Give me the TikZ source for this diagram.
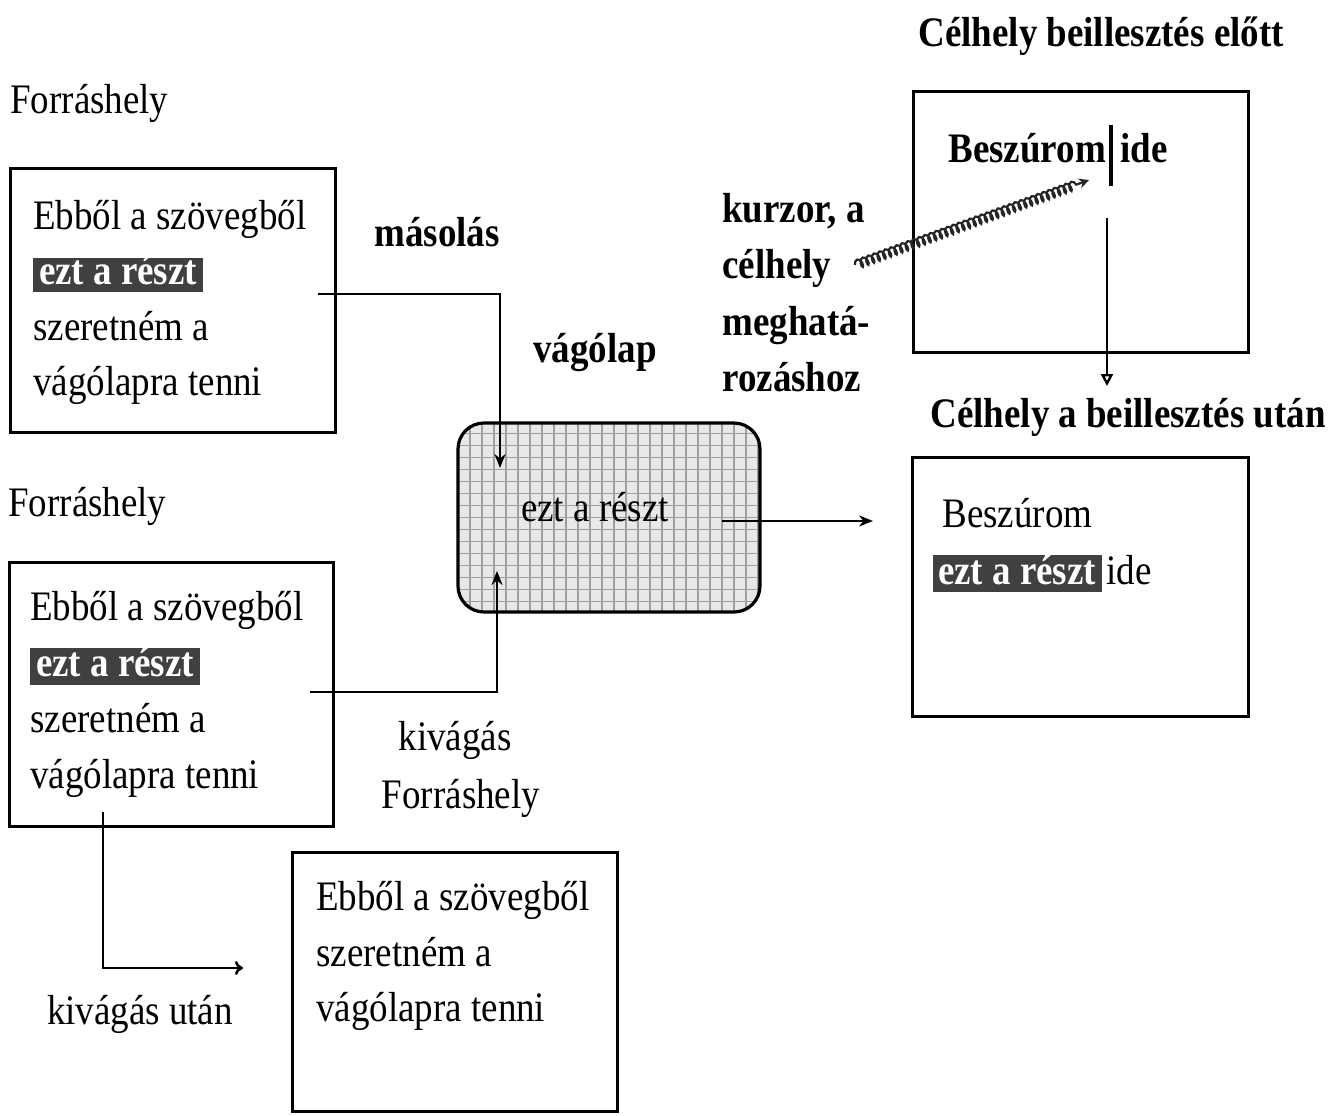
\documentclass[tikz,border=0pt]{standalone}
\usepackage{fontspec}
\setmainfont{Liberation Serif}[FakeStretch=0.88]
\usetikzlibrary{fit,arrows.meta,decorations.pathmorphing}
\begin{document}
\begin{tikzpicture}[x=0.5pt,y=-0.5pt,
  box/.style={draw, line width=1.5pt, inner sep=0pt},
  txt/.style={anchor=base west, inner sep=0pt, font=\fontsize{21}{24}\selectfont},
  btxt/.style={txt, font=\fontsize{21}{24}\selectfont\bfseries},
  lbl/.style={anchor=base, inner sep=0pt, font=\fontsize{21}{24}\selectfont},
  blbl/.style={lbl, font=\fontsize{21}{24}\selectfont\bfseries},
  hlfill/.style={fill=black!75, draw=none, inner sep=0pt},
  hltext/.style={anchor=base, inner sep=0pt, text=white, font=\fontsize{21}{24}\selectfont\bfseries},
  conn/.style={line width=1.3pt},
  tipS/.style={-{Stealth[length=7pt,width=5.5pt]}},
  clipb/.style={draw, line width=1.6pt, fill=gray!18, rounded corners=13pt, inner sep=0pt,
    path picture={\draw[gray!75, line width=0.55pt, step=6pt]
      (path picture bounding box.south west) grid (path picture bounding box.north east);}}]
\useasboundingbox (0,0) rectangle (1329,1115);
\fill[white] (0,0) rectangle (1329,1115);

% ---------- top source box ----------
\node[txt] (t1) at (10,113) {Forráshely};
\node[box, fit={(10,168)(335,432)}] (b1) {};
\node[txt] (b1l1) at (33,229) {Ebből a szövegből};
\node[hlfill, fit={(33,258)(203,292)}] (h1) {};
\node[hltext] (h1t) at (118,284) {ezt a részt};
\node[txt] (b1l3) at (33,340) {szeretném a};
\node[txt] (b1l4) at (33,395) {vágólapra tenni};
\node[blbl] (masolas) at (437,246) {másolás};

% ---------- second source box ----------
\node[txt] (t2) at (8,516) {Forráshely};
\node[box, fit={(9,562)(333,826)}] (b2) {};
\node[txt] (b2l1) at (30,620) {Ebből a szövegből};
\node[hlfill, fit={(30,648)(200,685)}] (h2) {};
\node[hltext] (h2t) at (115,676) {ezt a részt};
\node[txt] (b2l3) at (30,732) {szeretném a};
\node[txt] (b2l4) at (30,788) {vágólapra tenni};
\node[lbl] (kivagas) at (455,750) {kivágás};
\node[lbl] (forr3) at (461,808) {Forráshely};
\node[lbl] (utan) at (140,1024) {kivágás után};

% ---------- result box after cut ----------
\node[box, fit={(292,852)(617,1111)}] (b3) {};
\node[txt] (b3l1) at (316,910) {Ebből a szövegből};
\node[txt] (b3l2) at (316,966) {szeretném a};
\node[txt] (b3l3) at (316,1021) {vágólapra tenni};

% ---------- clipboard ----------
\node[clipb, fit={(458,423)(760,612)}] (clip) {};
\node[lbl] (cliptext) at (595,521) {ezt a részt};
\node[blbl] (vagolap) at (595,362) {vágólap};

% ---------- target before ----------
\node[btxt] (t4) at (918,46) {Célhely beillesztés előtt};
\node[box, fit={(913,91)(1248,352)}] (b4) {};
\node[btxt] (b4l1) at (948,162) {Beszúrom};
\node[btxt] (b4ide) at (1120,162) {ide};
\coordinate (cur1) at (1111,125);
\coordinate (cur2) at (1111,186);
\draw[line width=1.6pt] (cur1) -- (cur2);

\node[btxt] (k1) at (722,222) {kurzor, a};
\node[btxt] (k2) at (722,278) {célhely};
\node[btxt] (k3) at (722,335) {meghatá-};
\node[btxt] (k4) at (722,391) {rozáshoz};

% ---------- target after ----------
\node[btxt] (t5) at (930,427) {Célhely a beillesztés után};
\node[box, fit={(912,457)(1248,716)}] (b5) {};
\node[txt] (b5l1) at (942,527) {Beszúrom};
\node[hlfill, fit={(933,555)(1102,592)}] (h5) {};
\node[hltext] (h5t) at (1017,584) {ezt a részt};
\node[txt] (b5ide) at (1106,584) {ide};

% ---------- connectors ----------
\coordinate (c1s) at (318,294);
\coordinate (c1e) at (500,468);
\draw[conn, tipS] (c1s) -| (c1e);

\coordinate (c2s) at (310,692);
\coordinate (c2e) at (497,571);
\draw[conn, tipS] (c2s) -| (c2e);

\coordinate (c3s) at (103,812);
\coordinate (c3e) at (243,968);
\draw[conn, -{To[length=4pt,width=7pt]}] (c3s) |- (c3e);

\coordinate (c4s) at (722,521);
\coordinate (c4e) at (873,521);
\draw[conn, tipS] (c4s) -- (c4e);

\coordinate (d1) at (1107,218);
\coordinate (d2) at (1107,386);
\draw[line width=1.2pt, -{Triangle[open,length=6pt,width=6pt]}] (d1) -- (d2);

\coordinate (ks) at (855,265);
\coordinate (ke) at (1089,180);
\draw[black!85, line width=1.1pt, -{Stealth[length=5pt,width=5pt]},
  decorate, decoration={coil, aspect=0.5, segment length=3pt, amplitude=2.2pt, post length=4pt}]
  (ks) -- (ke);
\end{tikzpicture}
\end{document}
